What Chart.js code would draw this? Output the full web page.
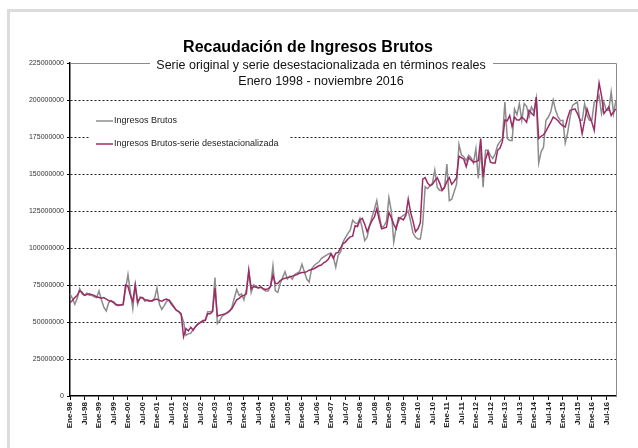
<!DOCTYPE html>
<html lang="es">
<head>
<meta charset="utf-8">
<title>Recaudación de Ingresos Brutos</title>
<script src="https://cdn.jsdelivr.net/npm/chart.js@4/dist/chart.umd.min.js"></script>
<style>
  html, body { margin: 0; padding: 0; background: #fff; }
  #grafico { display: block; }
</style>
</head>
<body>
<canvas id="grafico" width="638" height="448"></canvas>
<script>
/* ============================================================
DATOS (millones de pesos, ene-1998 a nov-2016)
============================================================ */

const meses = ["Ene", "Feb", "Mar", "Abr", "May", "Jun", "Jul", "Ago", "Sep", "Oct", "Nov", "Dic"];
const anios = ["98", "99", "00", "01", "02", "03", "04", "05", "06", "07", "08", "09", "10", "11", "12", "13", "14", "15", "16"];

const categorias = [];
anios.forEach((a) => meses.forEach((m) => categorias.push(m + "-" + a)));
categorias.length = 227; // hasta nov-16

const ingresosBrutos = [
  69, 66, 62, 66, 72.5, 69, 68, 69.5, 68, 68, 67, 66.5,
  71, 65, 60, 57.5, 63, 64.5, 63, 61.5, 61, 61.5, 61.5, 72,
  82, 70, 59, 75, 62, 67, 66.5, 64, 65, 64.5, 64, 66,
  73, 62, 58.5, 61, 64, 65, 63, 60.5, 58, 57, 55, 50,
  41, 42, 42.5, 45, 47, 49, 50, 50.5, 51.5, 57, 57, 57.5,
  80, 49, 51, 54, 55, 56.5, 57, 60, 66, 72, 68, 69,
  65, 72, 84, 70, 75, 74, 73, 74, 72, 71, 71, 74,
  88, 71, 70, 76, 80, 84, 79, 81, 79, 82, 83, 84,
  89, 84, 79, 77, 86, 88, 89.5, 90.5, 92.8, 94, 95, 96,
  96.5, 94, 87, 95, 97.3, 104, 107, 109.7, 112, 118.7, 117, 116.4,
  120, 113, 105, 107.4, 115, 121, 126, 132, 122, 114, 115, 118,
  134, 125, 104, 114, 118, 121, 122, 123, 125, 118, 110, 107.4,
  106, 106, 116, 141.4, 140, 142, 143.7, 152.7, 141, 139, 138.7, 140.5,
  156.7, 132, 133, 138, 143, 170, 163, 161.7, 159, 162.6, 161, 157.4,
  167, 147, 167.8, 141, 166, 166, 162.6, 160.4, 163.7, 169.4, 172, 174,
  198.6, 174, 172.7, 172.7, 194, 190, 197.5, 186.3, 197.5, 195.7, 188.5, 195.3,
  192, 201, 157.4, 165, 168.2, 186.3, 188.5, 192, 200, 193, 188.5, 186,
  186.3, 171, 178, 188.5, 196.4, 197.5, 198.6, 186.3, 186.3, 197.5, 189.6, 186.3,
  186.3, 198.6, 199, 203, 190.8, 198.6, 193, 193, 205.4, 190.8, 200,
];

const ingresosDesest = [
  63, 64.5, 66.5, 68, 71, 70, 68, 68.5, 69, 68.5, 68, 67,
  66.5, 66, 66.5, 65.5, 64.5, 64, 63.5, 62, 61.5, 61.5, 62, 75,
  74, 68, 64, 75, 63.5, 66, 66.5, 65, 64.5, 64, 64.5, 65,
  65.5, 64.5, 64, 65, 65.5, 64.5, 62, 60, 58, 57, 55.5, 40,
  45.5, 44, 46.5, 44.5, 47, 48.5, 49.5, 51, 51, 55.5, 55.5, 57,
  73, 54, 54.5, 55, 55.5, 56, 57.5, 59, 62, 65, 66, 67.5,
  68, 69, 85, 72.5, 74, 73.5, 73, 73.5, 72.5, 72, 72.5, 74,
  81.5, 76, 76, 78, 79, 79.5, 80, 80.5, 81, 81.5, 82, 83,
  83.5, 83.5, 84, 85, 85.5, 86, 87, 88, 88.5, 90, 91, 92.5,
  96, 93, 96.5, 97, 100, 103, 104, 106, 107.5, 108, 115, 114.5,
  119, 120, 116, 111, 115, 118.5, 121, 126.5, 119, 113, 113.5, 114,
  124, 120.5, 116, 113, 120.5, 120, 119, 122, 133, 124, 118, 111,
  113, 117, 146.5, 147.5, 144, 142, 143, 145.5, 147.5, 144, 139, 141,
  145, 147.5, 143, 145, 147.5, 162, 161, 160, 155, 161, 159.5, 158,
  158.5, 159, 174, 148, 160, 165, 158, 157.5, 157.5, 166, 167.5, 172,
  186.5, 186, 189.5, 182, 188.5, 186.5, 186.5, 188.5, 187, 185, 193, 191,
  189.5, 202, 174, 175.5, 176.5, 179, 182, 185, 188.5, 187.5, 186, 184,
  182.5, 181.8, 188, 193, 193.5, 194, 191, 187, 177.3, 186, 194, 189,
  185, 179.5, 197.5, 211.5, 203, 190.8, 193, 195.3, 189.6, 192, 194,
];

const titulo = "Recaudación de Ingresos Brutos";
const subtitulo = ["Serie original y serie desestacionalizada en términos reales", "Enero 1998 - noviembre 2016"];

/* ============================================================
PLUGIN MARCO, TITULO Y LEYENDA
============================================================ */

const FUENTE = "'Liberation Sans', Arial, sans-serif";

const marcoPlugin = {
  id: "marco",
  beforeDraw(chart) {
    const ctx = chart.ctx;
    ctx.save();
    ctx.fillStyle = "#ffffff";
    ctx.fillRect(0, 0, chart.width, chart.height);
    ctx.strokeStyle = "#dcdcdc";
    ctx.lineWidth = 3;
    ctx.strokeRect(8.5, 10.5, 700, 500);
    ctx.restore();
  },
  beforeDatasetsDraw(chart) {
    // borde superior y derecho del area del grafico
    const { ctx, chartArea: a } = chart;
    ctx.save();
    ctx.strokeStyle = "#8a8a8a";
    ctx.lineWidth = 1;
    ctx.beginPath();
    ctx.moveTo(a.left, a.top + 0.5);
    ctx.lineTo(a.right + 0.5, a.top + 0.5);
    ctx.lineTo(a.right + 0.5, a.bottom);
    ctx.stroke();
    ctx.restore();
  },
  afterDraw(chart) {
    const ctx = chart.ctx;
    ctx.save();

    /* titulo */
    ctx.textAlign = "center";
    ctx.textBaseline = "middle";
    ctx.fillStyle = "#000";
    ctx.font = "bold 16px " + FUENTE;
    ctx.fillText(titulo, 308, 48);

    /* subtitulo con fondo blanco */
    ctx.fillStyle = "#fff";
    ctx.fillRect(150, 57, 343, 33);
    ctx.fillStyle = "#111";
    ctx.font = "12.5px " + FUENTE;
    ctx.fillText(subtitulo[0], 321, 66);
    ctx.fillText(subtitulo[1], 321, 82);

    /* leyenda */
    ctx.fillStyle = "#fff";
    ctx.fillRect(90, 112, 199, 40);
    ctx.textAlign = "left";
    ctx.font = "9px " + FUENTE;
    const items = [chart.data.datasets[1], chart.data.datasets[0]];
    items.forEach((ds, k) => {
      const y = 121 + k * 23;
      ctx.strokeStyle = ds.borderColor;
      ctx.lineWidth = 1.5;
      ctx.beginPath();
      ctx.moveTo(96, y);
      ctx.lineTo(113, y);
      ctx.stroke();
      ctx.fillStyle = "#222";
      ctx.fillText(ds.label, 114, y);
    });

    ctx.restore();
  },
};

/* ============================================================
GRAFICO DE LINEAS
============================================================ */

new Chart(document.getElementById("grafico"), {
  type: "line",
  data: {
    labels: categorias,
    datasets: [
      {
        label: "Ingresos Brutos-serie desestacionalizada",
        data: ingresosDesest,
        borderColor: "#9c2b65",
        borderWidth: 1.5,
        pointRadius: 0,
        tension: 0,
        order: 0,
      },
      {
        label: "Ingresos Brutos",
        data: ingresosBrutos,
        borderColor: "#8c8c8c",
        borderWidth: 1.5,
        pointRadius: 0,
        tension: 0,
        order: 1,
      },
    ],
  },
  options: {
    responsive: false,
    animation: false,
    devicePixelRatio: 1,
    layout: { padding: { left: 0, right: 22, top: 63, bottom: 0 } },
    plugins: {
      legend: { display: false },
      title: { display: false },
      tooltip: { enabled: false },
    },
    scales: {
      x: {
        type: "category",
        offset: false,
        afterFit(scale) {
          scale.height = 52;
        },
        afterBuildTicks(scale) {
          scale.ticks = scale.ticks.filter((t) => t.value % 6 === 0);
        },
        grid: {
          display: true,
          drawOnChartArea: false,
          drawTicks: true,
          tickLength: 4,
          tickColor: "#000",
        },
        border: { display: true, color: "#000", width: 1.5 },
        ticks: {
          autoSkip: false,
          minRotation: 90,
          maxRotation: 90,
          padding: 2,
          color: "#222",
          font: { family: FUENTE, size: 8, weight: "bold" },
        },
      },
      y: {
        min: 0,
        max: 225,
        afterFit(scale) {
          scale.width = 70;
        },
        grid: {
          color: (c) => (c.tick && (c.tick.value === 0 || c.tick.value === 225) ? "rgba(0,0,0,0)" : "#222"),
          lineWidth: 1,
          drawTicks: true,
          tickLength: 3,
          tickColor: "#000",
        },
        border: { display: true, color: "#000", width: 1.5, dash: [2, 2] },
        ticks: {
          stepSize: 25,
          padding: 3,
          color: "#333",
          font: { family: FUENTE, size: 7 },
          callback: (v) => String(v * 1000000),
        },
      },
    },
  },
  plugins: [marcoPlugin],
});
</script>
</body>
</html>
